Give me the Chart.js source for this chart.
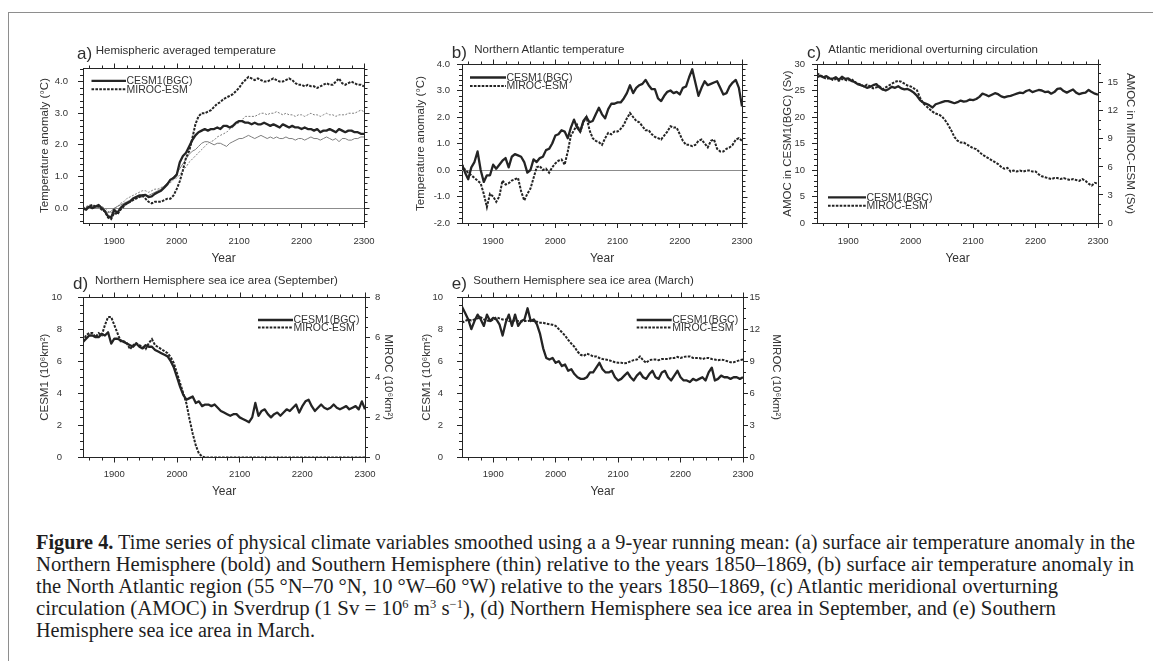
<!DOCTYPE html>
<html><head><meta charset="utf-8">
<script src="https://cdn.jsdelivr.net/npm/chart.js@4.4.1/dist/chart.umd.min.js"></script>
<style>
html,body{margin:0;padding:0;background:#fff;}
body{width:1153px;height:661px;position:relative;overflow:hidden;font-family:"Liberation Sans",Arial,Helvetica,sans-serif;}
.frame{position:absolute;left:8px;top:11.5px;width:1300px;height:800px;border-left:1.5px solid #8e8e8e;border-top:1.5px solid #8e8e8e;}
.pt{position:absolute;white-space:nowrap;line-height:1;color:#2e2e2e;}
.cap{position:absolute;left:36px;white-space:nowrap;line-height:1;font-family:"Liberation Serif","Times New Roman",serif;font-size:20px;color:#1e1e1e;transform-origin:0 0;}
.cap sup{font-size:0.6em;vertical-align:0;position:relative;top:-0.6em;line-height:0;}
canvas{position:absolute;}
</style>
</head><body>
<div class="frame"></div>
<script>
// ---------------- DATA ----------------
const YEARS = [1850,1855,1860,1865,1870,1875,1880,1885,1890,1895,
 1900,1905,1910,1915,1920,1925,1930,1935,1940,1945,
 1950,1955,1960,1965,1970,1975,1980,1985,1990,1995,
 2000,2005,2010,2015,2020,2025,2030,2035,2040,2045,
 2050,2055,2060,2065,2070,2075,2080,2085,2090,2095,
 2100,2105,2110,2115,2120,2125,2130,2135,2140,2145,
 2150,2155,2160,2165,2170,2175,2180,2185,2190,2195,
 2200,2205,2210,2215,2220,2225,2230,2235,2240,2245,
 2250,2255,2260,2265,2270,2275,2280,2285,2290,2295,2300];
const X_TICKS = [1900,2000,2100,2200,2300];
const SERIES_NAMES = ['CESM1(BGC)','MIROC-ESM'];

// (a) hemispheric averaged temperature (°C); NH bold, SH thin
const aCesmNH = [0.0,-0.05,0.05,0.0,0.05,0.1,0.0,-0.1,-0.25,-0.3,
 -0.05,-0.15,0.0,0.1,0.15,0.2,0.3,0.35,0.4,0.4,
 0.42,0.35,0.37,0.45,0.5,0.55,0.65,0.75,0.9,0.95,
 1.05,1.45,1.65,1.75,1.95,2.15,2.3,2.4,2.45,2.5,
 2.45,2.5,2.5,2.55,2.5,2.6,2.6,2.55,2.6,2.7,
 2.75,2.75,2.7,2.7,2.65,2.7,2.65,2.65,2.7,2.65,
 2.6,2.65,2.6,2.55,2.65,2.6,2.55,2.6,2.55,2.55,
 2.5,2.55,2.5,2.5,2.45,2.5,2.4,2.45,2.45,2.5,
 2.45,2.4,2.5,2.45,2.4,2.45,2.45,2.4,2.4,2.35,2.35];
const aMirocNH = [-0.05,0.0,0.05,0.1,0.05,0.05,-0.05,-0.1,-0.3,-0.35,
 -0.15,-0.2,-0.05,0.05,0.15,0.2,0.25,0.3,0.35,0.4,
 0.3,0.2,0.15,0.2,0.2,0.2,0.25,0.3,0.3,0.4,
 0.6,0.85,1.2,1.6,1.8,2.2,2.65,2.9,3.0,3.0,
 3.05,3.1,3.2,3.3,3.35,3.45,3.5,3.55,3.6,3.7,
 3.8,3.95,4.05,4.15,4.1,4.05,4.1,4.05,4.0,4.0,
 4.05,4.1,4.05,4.0,4.0,4.05,4.1,4.05,3.95,3.9,
 3.9,3.85,3.9,3.85,3.85,3.8,3.85,3.9,3.95,3.9,
 3.9,4.0,4.1,3.95,3.9,3.95,4.0,3.95,3.9,3.9,3.85];
const aCesmSH = [0.0,0.0,0.05,0.05,0.0,0.05,0.0,-0.05,-0.15,-0.1,
 0.0,0.05,0.1,0.15,0.2,0.25,0.3,0.3,0.35,0.35,
 0.4,0.4,0.45,0.5,0.55,0.6,0.7,0.8,0.9,1.0,
 1.1,1.25,1.4,1.55,1.7,1.8,1.85,1.95,2.05,2.1,
 2.1,2.05,2.0,2.05,2.05,2.0,1.95,2.05,2.1,2.15,
 2.2,2.2,2.25,2.3,2.25,2.2,2.25,2.3,2.25,2.2,
 2.25,2.2,2.25,2.2,2.2,2.25,2.2,2.2,2.15,2.2,
 2.2,2.15,2.2,2.25,2.2,2.2,2.15,2.2,2.25,2.2,
 2.15,2.2,2.1,2.2,2.2,2.15,2.15,2.2,2.2,2.25,2.25];
const aMirocSH = [0.0,0.05,0.1,0.1,0.05,0.1,0.05,0.0,-0.1,-0.15,
 0.0,0.05,0.15,0.2,0.3,0.35,0.4,0.45,0.5,0.55,
 0.55,0.5,0.55,0.6,0.6,0.65,0.7,0.75,0.8,0.9,
 0.95,1.05,1.2,1.3,1.45,1.55,1.65,1.75,1.85,1.95,
 2.05,2.1,2.15,2.25,2.3,2.35,2.4,2.5,2.55,2.65,
 2.7,2.8,2.9,2.9,2.9,2.9,2.95,3.0,3.0,2.95,
 3.0,3.0,3.05,3.0,2.95,3.0,2.95,2.95,2.9,2.95,
 2.95,2.9,2.95,3.0,2.95,2.95,2.9,2.95,3.0,2.95,
 2.95,2.9,2.95,2.95,2.95,3.0,3.0,3.0,3.05,3.1,3.05];
const aYTicks = [0,1,2,3,4];

// (b) northern Atlantic temperature (°C)
const bCesm = [0.2,-0.1,-0.35,0.1,0.3,0.7,0.0,-0.45,-0.2,-0.2,
 0.2,0.05,0.2,0.35,0.45,0.1,0.5,0.6,0.55,0.5,
 0.3,-0.1,0.0,0.4,0.3,0.45,0.5,0.75,0.8,1.0,
 1.3,1.35,1.5,1.45,1.2,1.6,1.9,1.6,1.45,1.85,
 2.0,1.8,1.85,2.1,2.35,2.1,1.95,2.3,2.5,2.5,
 2.55,2.55,2.7,2.9,3.2,2.9,3.1,3.2,3.25,3.4,
 3.2,3.05,3.05,2.7,2.6,2.8,2.95,3.0,2.9,2.95,
 2.85,3.1,3.15,3.5,3.8,3.3,2.8,3.1,3.35,3.2,
 3.25,3.3,3.35,3.1,2.85,2.9,3.15,3.3,3.4,3.1,2.4];
const bMiroc = [0.2,0.0,-0.1,-0.2,-0.3,-0.4,-0.5,-0.9,-1.4,-0.9,
 -1.0,-1.2,-1.0,-0.4,-0.55,-0.5,-0.4,-0.35,-0.3,-0.8,
 -1.15,-0.9,-0.7,-0.3,0.1,0.15,0.0,0.05,-0.1,0.1,
 0.25,0.35,0.4,0.2,0.7,1.3,1.5,1.7,1.45,1.8,
 2.0,1.5,1.2,1.1,1.05,0.95,1.2,1.4,1.35,1.45,
 1.45,1.55,1.7,1.95,2.15,2.0,1.85,1.8,1.65,1.5,
 1.5,1.35,1.25,1.2,1.15,1.3,1.45,1.65,1.6,1.6,
 1.35,1.1,0.95,0.95,0.9,0.95,1.1,1.15,1.0,0.85,
 1.1,1.15,0.8,0.7,0.7,0.8,0.85,0.95,1.15,1.2,1.1];
const bYTicks = [-2,-1,0,1,2,3,4];

// (c) AMOC (Sv): CESM on left axis, MIROC on right axis
const cCesm = [27.5,27.8,27.5,27.7,27.3,27.2,27.5,27.0,27.6,27.2,
 27.3,26.8,26.6,26.2,26.0,25.8,25.5,25.7,26.0,26.2,
 25.6,25.2,25.0,25.3,25.7,25.5,25.8,25.4,25.2,25.3,
 25.0,24.6,24.0,23.2,22.7,22.5,22.2,21.8,22.4,22.6,
 22.8,23.0,23.0,22.8,22.6,22.8,23.1,22.9,23.0,23.3,
 23.2,23.4,23.8,24.4,24.2,23.9,24.2,24.5,24.3,23.9,
 23.7,23.9,24.0,24.2,24.4,24.6,24.5,24.9,25.1,24.7,
 24.9,25.1,25.0,24.7,24.8,24.4,24.7,25.3,25.4,24.9,
 24.6,24.9,25.2,24.6,24.3,24.5,24.6,25.1,24.7,24.4,24.2];
const cMiroc = [16.0,15.8,15.6,15.4,15.5,15.3,15.4,15.2,15.4,15.3,
 15.2,15.4,15.1,14.9,14.8,14.6,14.8,14.6,14.4,14.5,
 14.6,14.3,14.5,14.7,14.9,15.1,15.2,15.1,14.9,14.7,
 14.6,14.4,14.2,13.4,12.8,12.5,12.2,11.9,11.7,11.6,
 11.4,11.0,10.5,9.9,9.2,8.8,8.6,8.6,8.4,8.2,
 8.0,7.9,7.6,7.3,7.1,6.9,6.7,6.5,6.3,6.0,
 5.8,5.9,5.5,5.6,5.5,5.6,5.5,5.6,5.6,5.5,
 5.5,5.2,5.0,4.9,4.8,4.7,4.8,4.8,4.7,4.8,
 4.7,4.6,4.7,4.6,4.5,4.7,4.5,4.2,4.0,4.3,4.2];
const cYTicks = [0,5,10,15,20,25,30];
const cY2Ticks = [0,3,6,9,12,15];

// (d) NH sea ice area, September (10^6 km^2)
const dCesm = [7.2,7.4,7.6,7.6,7.5,7.5,7.7,7.6,7.8,7.1,
 7.4,7.4,7.3,7.2,7.1,7.0,6.9,7.1,6.9,6.8,
 7.0,6.9,6.9,6.7,6.6,6.5,6.4,6.3,6.0,5.6,
 5.0,4.4,3.9,3.6,3.7,3.8,3.4,3.5,3.2,3.3,
 3.3,3.2,3.3,3.1,2.9,2.8,2.7,2.6,2.7,2.7,
 2.5,2.4,2.3,2.2,2.5,3.4,2.6,2.9,3.0,2.7,
 2.5,2.7,2.8,2.6,2.8,3.0,2.9,3.1,3.3,2.8,
 3.2,3.5,3.6,3.2,2.9,3.1,3.3,3.1,3.0,3.1,
 3.3,3.1,3.0,3.1,3.2,3.0,3.1,3.2,3.0,3.5,3.0];
const dMiroc = [5.8,6.1,6.2,6.2,6.0,6.2,6.1,6.6,7.0,7.0,
 6.6,6.2,5.8,5.8,5.7,5.4,5.6,5.7,5.6,5.5,
 5.4,5.7,5.9,5.6,5.5,5.4,5.3,5.2,5.0,4.7,
 4.2,3.7,3.2,2.7,1.9,1.2,0.6,0.2,0.05,0,
 0,0,0,0,0,0,0,0,0,0,
 0,0,0,0,0,0,0,0,0,0,
 0,0,0,0,0,0,0,0,0,0,
 0,0,0,0,0,0,0,0,0,0,
 0,0,0,0,0,0,0,0,0,0,0];
const dYTicks = [0,2,4,6,8,10];
const dY2Ticks = [0,2,4,6,8];

// (e) SH sea ice area, March (10^6 km^2)
const eCesm = [9.4,9.0,8.6,8.0,8.5,8.9,8.6,8.2,8.9,8.5,
 8.7,8.6,8.3,7.6,8.4,8.9,8.2,8.9,8.2,8.5,
 8.6,9.3,8.5,8.6,8.3,7.7,6.8,6.2,6.1,6.2,
 5.9,6.0,5.7,5.8,5.4,5.5,5.2,5.0,4.9,4.9,
 5.0,5.3,5.3,5.6,5.9,5.5,5.3,5.3,5.4,5.0,
 4.8,4.9,5.1,5.3,5.0,4.8,5.1,5.3,5.0,4.9,
 5.2,5.4,5.0,4.9,5.3,5.4,5.0,4.8,5.1,5.4,
 5.0,4.8,4.8,4.7,4.9,4.8,4.9,5.0,4.8,5.3,
 5.6,4.8,4.9,5.1,5.0,5.0,4.9,5.0,5.0,4.9,5.0];
const eMiroc = [12.6,12.75,12.9,12.8,12.9,13.0,13.1,12.9,12.8,12.75,
 12.9,13.1,13.0,12.9,12.9,12.75,12.75,12.8,12.75,12.7,
 12.75,12.75,12.8,12.75,12.7,12.6,12.6,12.5,12.45,12.4,
 12.3,12.0,11.7,11.4,11.0,10.65,10.35,9.9,9.6,9.5,
 9.7,9.6,9.45,9.45,9.3,9.2,9.15,9.1,9.0,8.9,
 8.85,8.85,8.8,8.85,9.0,9.1,9.15,9.45,9.1,8.85,
 9.1,9.15,9.15,9.1,9.2,9.2,9.2,9.3,9.3,9.4,
 9.3,9.4,9.45,9.45,9.3,9.3,9.3,9.2,9.3,9.3,
 9.2,9.15,9.1,9.15,9.1,9.0,8.9,8.9,9.0,9.1,9.15];
const eYTicks = [0,2,4,6,8,10];
const eY2Ticks = [0,3,6,9,12,15];

// ---------------- STYLE ----------------
const INK = '#242424', TXT = '#333333', ZERO = '#8c8c8c', THIN = '#7e7e7e';
const SANS = '"Liberation Sans", Arial, Helvetica, sans-serif';
const TICK_FS = 9.5, AXT_FS = 11.5, YEAR_FS = 12, LEG_FS = 10.5;
const MAJ = 5, MIN = 3;
const DASH = [2.6, 1.3];

function pts(vals){ return YEARS.map((x,i)=>({x:x, y:vals[i]})); }
function steps(a,b,s){ const r=[]; for(let k=0;;k++){ const v=+(a+k*s).toFixed(6); if(v>b+1e-9) break; r.push(v);} return r; }
const bold = (label, vals, axis) => ({label, data:pts(vals), yAxisID:axis||'y', borderColor:INK, borderWidth:2.3, pointRadius:0, tension:0, borderJoinStyle:'round'});
const dashed = (label, vals, axis) => ({label, data:pts(vals), yAxisID:axis||'y', borderColor:INK, borderWidth:2, borderDash:DASH, pointRadius:0, tension:0});

const nclPlugin = {
  id:'ncl',
  beforeDatasetsDraw(chart, args, o){
    if (o.zero === undefined || o.zero === null) return;
    const {ctx, chartArea:ca} = chart; const y = chart.scales.y;
    const py = Math.round(y.getPixelForValue(o.zero)) + 0.5;
    ctx.save(); ctx.strokeStyle = ZERO; ctx.lineWidth = 1;
    ctx.beginPath(); ctx.moveTo(ca.left, py); ctx.lineTo(ca.right, py); ctx.stroke(); ctx.restore();
  },
  afterDraw(chart, args, o){
    const {ctx, chartArea:ca, scales} = chart;
    const x = scales.x, y = scales.y, y2 = scales.y2;
    const al = v => Math.round(v) + 0.5;
    ctx.save();
    ctx.strokeStyle = INK; ctx.lineWidth = 1; ctx.setLineDash([]);
    ctx.beginPath();
    ctx.moveTo(ca.left, al(ca.top)); ctx.lineTo(ca.right, al(ca.top));
    if (!y2) { ctx.moveTo(al(ca.right), ca.top); ctx.lineTo(al(ca.right), ca.bottom); }
    for (const v of o.xMinor) {
      const px = al(x.getPixelForValue(v)); const major = X_TICKS.includes(v);
      if (!major) { ctx.moveTo(px, ca.bottom); ctx.lineTo(px, ca.bottom + MIN); }
      ctx.moveTo(px, al(ca.top)); ctx.lineTo(px, al(ca.top) - (major ? MAJ : MIN));
    }
    for (const v of o.yMinor) {
      const py = al(y.getPixelForValue(v)); const major = o.yMajor.includes(v);
      if (!major) { ctx.moveTo(ca.left, py); ctx.lineTo(ca.left - MIN, py); }
      if (!y2) { ctx.moveTo(al(ca.right), py); ctx.lineTo(al(ca.right) + (major ? MAJ : MIN), py); }
    }
    if (y2) for (const v of o.y2Minor) {
      if (o.y2Major.includes(v)) continue;
      const py = al(y2.getPixelForValue(v));
      ctx.moveTo(ca.right, py); ctx.lineTo(ca.right + MIN, py);
    }
    ctx.stroke();
    const L = o.legend;
    if (L) {
      const ox = o.offset.x, oy = o.offset.y;
      ctx.font = LEG_FS + 'px ' + SANS; ctx.textBaseline = 'middle'; ctx.fillStyle = TXT; ctx.textAlign = 'left';
      L.items.forEach((di, k) => {
        const ds = chart.data.datasets[di]; const yy = L.rows[k] - oy;
        ctx.save(); ctx.strokeStyle = ds.borderColor; ctx.lineWidth = ds.borderWidth; ctx.setLineDash(ds.borderDash || []);
        ctx.beginPath(); ctx.moveTo(L.x1 - ox, yy); ctx.lineTo(L.x2 - ox, yy); ctx.stroke(); ctx.restore();
        ctx.fillText(ds.label, L.tx - ox, yy + 0.5);
      });
    }
    ctx.restore();
  }
};

// ---------------- LAYOUT ----------------
const PANELS = [
 { box:{x:30,y:40,w:360,h:230}, plot:{l:83,r:364,t:68,b:223},
   y:{min:-0.47,max:4.43,ticks:aYTicks,fmt:v=>v.toFixed(1),minor:0.2,title:'Temperature anomaly (°C)',titleX:45,labRight:68},
   xLabY:241.7, xTitleY:259, zero:0,
   datasets:[ bold(SERIES_NAMES[0], aCesmNH), dashed(SERIES_NAMES[1], aMirocNH),
     {label:'CESM1(BGC) SH', data:pts(aCesmSH), borderColor:THIN, borderWidth:1, pointRadius:0, tension:0},
     {label:'MIROC-ESM SH', data:pts(aMirocSH), borderColor:THIN, borderWidth:1, borderDash:[2,1.5], pointRadius:0, tension:0} ],
   legend:{x1:91.5,x2:126,tx:126.5,rows:[80.8,89.2],items:[0,1]},
   title:{lab:'a)',labX:77,labBase:59.5,txt:'Hemispheric averaged temperature',txtX:95.7,txtBase:55} },
 { box:{x:400,y:40,w:372,h:230}, plot:{l:462,r:742,t:64,b:223},
   y:{min:-2,max:4,ticks:bYTicks,fmt:v=>v.toFixed(1),minor:0.2,title:'Temperature anomaly (°C)',titleX:420.7,labRight:450},
   xLabY:241.7, xTitleY:259, zero:0,
   datasets:[ bold(SERIES_NAMES[0], bCesm), dashed(SERIES_NAMES[1], bMiroc) ],
   legend:{x1:470,x2:506,tx:506.5,rows:[77.5,85.9],items:[0,1]},
   title:{lab:'b)',labX:451.7,labBase:58.3,txt:'Northern Atlantic temperature',txtX:474.3,txtBase:53.5} },
 { box:{x:776,y:40,w:377,h:230}, plot:{l:817,r:1098,t:64,b:223},
   y:{min:0,max:30,ticks:cYTicks,fmt:v=>String(v),minor:1,title:'AMOC in CESM1(BGC) (Sv)',titleX:788,labRight:805},
   y2:{min:0,max:17,ticks:cY2Ticks,minor:1,title:'AMOC in MIROC-ESM (Sv)',titleX:1130,labLeft:1107.5},
   xLabY:241.7, xTitleY:259,
   datasets:[ bold(SERIES_NAMES[0], cCesm), dashed(SERIES_NAMES[1], cMiroc, 'y2') ],
   legend:{x1:828,x2:866,tx:866.5,rows:[197.3,205.7],items:[0,1]},
   title:{lab:'c)',labX:807,labBase:58,txt:'Atlantic meridional overturning circulation',txtX:828.3,txtBase:54} },
 { box:{x:30,y:275,w:375,h:225}, plot:{l:83,r:365,t:297,b:457.5},
   y:{min:0,max:10,ticks:dYTicks,fmt:v=>String(v),minor:0.5,title:'CESM1 (10⁶km²)',titleX:45,labRight:62},
   y2:{min:0,max:8,ticks:dY2Ticks,minor:0.5,title:'MIROC (10⁶km²)',titleX:388.5,labLeft:375},
   xLabY:474.3, xTitleY:491.7,
   datasets:[ bold(SERIES_NAMES[0], dCesm), dashed(SERIES_NAMES[1], dMiroc, 'y2') ],
   legend:{x1:258,x2:293,tx:293.5,rows:[320,327.5],items:[0,1]},
   title:{lab:'d)',labX:73,labBase:289.3,txt:'Northern Hemisphere sea ice area (September)',txtX:95,txtBase:285} },
 { box:{x:405,y:275,w:385,h:225}, plot:{l:462,r:743,t:297,b:457.5},
   y:{min:0,max:10,ticks:eYTicks,fmt:v=>String(v),minor:0.5,title:'CESM1 (10⁶km²)',titleX:426.7,labRight:443},
   y2:{min:0,max:15,ticks:eY2Ticks,minor:1,title:'MIROC (10⁶km²)',titleX:776,labLeft:749.5},
   xLabY:474.3, xTitleY:491.7,
   datasets:[ bold(SERIES_NAMES[0], eCesm), dashed(SERIES_NAMES[1], eMiroc, 'y2') ],
   legend:{x1:636.7,x2:671.7,tx:672.2,rows:[320,327.5],items:[0,1]},
   title:{lab:'e)',labX:451.7,labBase:289,txt:'Southern Hemisphere sea ice area (March)',txtX:473.3,txtBase:285} }
];

function addText(cls, text, x, base, fs){
  const d = document.createElement('div'); d.className = cls; d.textContent = text;
  d.style.left = x + 'px'; d.style.top = (base - 0.8465*fs) + 'px'; d.style.fontSize = fs + 'px';
  document.body.appendChild(d); return d;
}

PANELS.forEach(P => {
  const {box, plot} = P;
  const cv = document.createElement('canvas');
  cv.width = box.w; cv.height = box.h;
  cv.style.left = box.x + 'px'; cv.style.top = box.y + 'px';
  cv.style.width = box.w + 'px'; cv.style.height = box.h + 'px';
  document.body.appendChild(cv);

  const lhT = AXT_FS*1.2, lhTick = TICK_FS*1.2, lhYear = YEAR_FS*1.2;
  const gridOpt = {display:true, drawOnChartArea:false, drawTicks:true, tickLength:MAJ, color:INK, lineWidth:1};
  const tickFont = {family:SANS, size:TICK_FS};
  const scales = {
    x: { type:'linear', position:'bottom', min:1850, max:2300,
      afterBuildTicks: s => { s.ticks = X_TICKS.map(v => ({value:v})); },
      afterFit: s => { s.height = box.y + box.h - plot.b; },
      ticks:{autoSkip:false, maxRotation:0, minRotation:0, color:TXT, font:tickFont, padding: P.xLabY - plot.b - MAJ - lhTick/2, callback: v => String(v)},
      grid: gridOpt, border:{display:true, color:INK, width:1},
      title:{display:true, text:'Year', color:TXT, font:{family:SANS,size:YEAR_FS}, padding:{top:0, bottom:(box.y+box.h - P.xTitleY) - lhYear/2}} },
    y: { type:'linear', position:'left', min:P.y.min, max:P.y.max,
      afterBuildTicks: s => { s.ticks = P.y.ticks.map(v => ({value:v})); },
      afterFit: s => { s.width = plot.l - box.x; },
      ticks:{autoSkip:false, color:TXT, font:tickFont, padding: plot.l - P.y.labRight - MAJ, callback: v => P.y.fmt(v)},
      grid: gridOpt, border:{display:true, color:INK, width:1},
      title:{display:true, text:P.y.title, color:TXT, font:{family:SANS,size:AXT_FS}, padding:{top:(P.y.titleX - box.x) - lhT/2, bottom:0}} }
  };
  if (P.y2) {
    scales.y2 = { type:'linear', position:'right', min:P.y2.min, max:P.y2.max,
      afterBuildTicks: s => { s.ticks = P.y2.ticks.map(v => ({value:v})); },
      afterFit: s => { s.width = box.x + box.w - plot.r; },
      ticks:{autoSkip:false, color:TXT, font:tickFont, padding: P.y2.labLeft - plot.r - MAJ, callback: v => String(v)},
      grid: gridOpt, border:{display:true, color:INK, width:1},
      title:{display:true, text:P.y2.title, color:TXT, font:{family:SANS,size:AXT_FS}, padding:{top:(box.x + box.w - P.y2.titleX) - lhT/2, bottom:0}} };
  }
  const yMinorStart = Math.ceil(P.y.min / P.y.minor) * P.y.minor;
  new Chart(cv, {
    type:'line',
    data:{ datasets: P.datasets },
    options:{
      responsive:false, animation:false, devicePixelRatio:1, events:[],
      layout:{ padding:{ left:0, top: plot.t - box.y, right: P.y2 ? 0 : (box.x + box.w - plot.r), bottom:0 } },
      scales,
      plugins:{ legend:{display:false}, tooltip:{enabled:false},
        ncl:{ zero:P.zero, offset:{x:box.x, y:box.y}, legend:P.legend,
          xMinor: steps(1860, 2300, 20),
          yMinor: steps(yMinorStart, P.y.max, P.y.minor), yMajor: P.y.ticks,
          y2Minor: P.y2 ? steps(P.y2.min, P.y2.max, P.y2.minor) : [], y2Major: P.y2 ? P.y2.ticks : [] } }
    },
    plugins:[nclPlugin]
  });
  addText('pt', P.title.lab, P.title.labX, P.title.labBase, 17);
  addText('pt', P.title.txt, P.title.txtX, P.title.txtBase, AXT_FS);
});

// ---------------- CAPTION ----------------
const CAPTION_LINES = [
 '<b>Figure 4.</b> Time series of physical climate variables smoothed using a a 9-year running mean: (a) surface air temperature anomaly in the',
 'Northern Hemisphere (bold) and Southern Hemisphere (thin) relative to the years 1850–1869, (b) surface air temperature anomaly in',
 'the North Atlantic region (55 °N–70 °N, 10 °W–60 °W) relative to the years 1850–1869, (c) Atlantic meridional overturning',
 'circulation (AMOC) in Sverdrup (1 Sv = 10<sup>6</sup> m<sup>3</sup> s<sup>−1</sup>), (d) Northern Hemisphere sea ice area in September, and (e) Southern',
 'Hemisphere sea ice area in March.'
];
const CAP_RIGHT = [1135, 1134, 1058, 1056, 315];
CAPTION_LINES.forEach((html, i) => {
  const d = document.createElement('div'); d.className = 'cap'; d.innerHTML = html;
  const base = 548.3 + 22.1*i;
  d.style.top = (base - 0.8375*20) + 'px';
  document.body.appendChild(d);
  const w = d.getBoundingClientRect().width;
  d.style.transform = 'scaleX(' + ((CAP_RIGHT[i] - 36) / w).toFixed(4) + ')';
});
</script>
</body></html>
